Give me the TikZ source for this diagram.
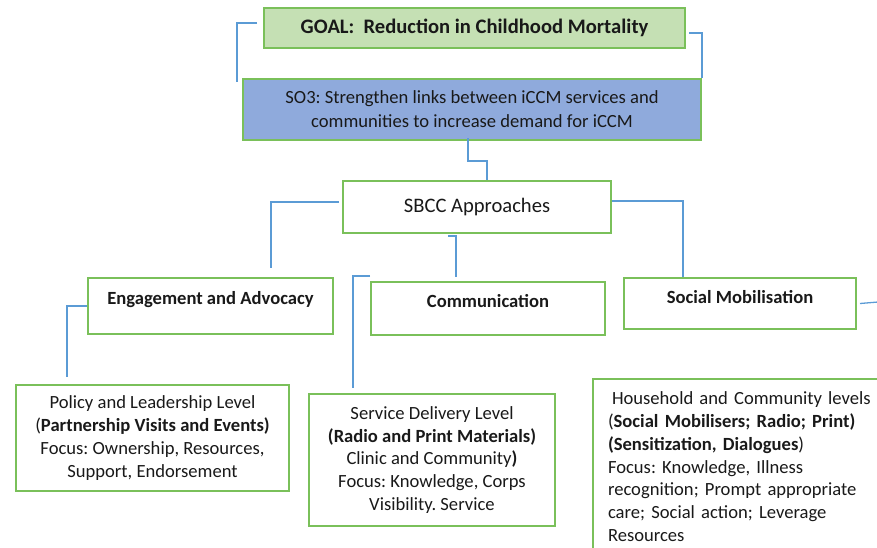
\documentclass[tikz,border=0pt]{standalone}
\usepackage{fontspec}
\setmainfont{Carlito}
\frenchspacing
\definecolor{boxgreen}{RGB}{122,192,90}
\definecolor{goalfill}{RGB}{197,224,180}
\definecolor{sofill}{RGB}{143,170,220}
\definecolor{linkblue}{RGB}{91,155,213}
\definecolor{ink}{RGB}{25,25,25}
\begin{document}
\begin{tikzpicture}[x=1pt,y=-1pt,
  box/.style={draw=boxgreen,line width=2pt,inner sep=0pt,text=ink,align=center},
  link/.style={draw=linkblue,line width=1.3pt},
  body/.style={font=\fontsize{18.6}{22.7}\selectfont},
  head/.style={font=\bfseries\fontsize{18.6}{22}\selectfont}]
\clip (0,0) rectangle (877,547);

% goal and strategic objective
\node[box,fill=goalfill,minimum width=421pt,minimum height=40pt,
      font=\bfseries\fontsize{20.6}{24}\selectfont] (goal) at (474.5,28)
      {GOAL:\ \ Reduction in Childhood Mortality};
\node[box,fill=sofill,minimum width=458pt,minimum height=61pt,
      font=\fontsize{18.6}{24}\selectfont] (so3) at (472,109.5)
      {SO3: Strengthen links between iCCM services and\\communities to increase demand for iCCM};

% approaches
\node[box,minimum width=268pt,minimum height=52pt,
      font=\fontsize{20.6}{24}\selectfont] (sbcc) at (477,207) {SBCC Approaches};

\node[box,head,anchor=north,minimum width=245pt,text height=26pt,text depth=30pt]
      (eng) at (210.5,277) {Engagement and Advocacy};
\node[box,head,anchor=north,minimum width=234pt,text height=25pt,text depth=28pt]
      (comm) at (488,281) {Communication};
\node[box,head,anchor=north,minimum width=232pt,text height=25pt,text depth=26pt]
      (soc) at (740,277) {Social Mobilisation};

% levels
\node[box,body,minimum width=273pt,minimum height=106pt] (pol) at (152.5,438)
      {Policy and Leadership Level\\(\textbf{Partnership Visits and Events)}\\
       Focus: Ownership, Resources,\\Support, Endorsement};
\node[box,body,minimum width=246pt,minimum height=132pt] (svc) at (432,460)
      {Service Delivery Level\\\textbf{(Radio and Print Materials)}\\
       Clinic and Community\textbf{)}\\Focus: Knowledge, Corps\\Visibility. Service};
\node[box,body,anchor=north west,align=left,text width=280pt,
      inner xsep=15pt,inner ysep=13pt] (hh) at (592,378)
      {\hspace{4pt}Household and Community levels\\
       (\textbf{Social Mobilisers; Radio; Print)}\\
       \textbf{(Sensitization, Dialogues}) \\
       Focus: Knowledge, Illness\\
       recognition; Prompt appropriate\\
       care; Social action; Leverage\\
       Resources};

% connectors
\coordinate (offright) at (890,301);
\draw[link] ([shift={(-6,-5)}]goal.west) -| ([shift={(-5,4)}]so3.north west);
\draw[link] ([shift={(3,5)}]goal.east) -| (so3.north east);
\draw[link] ([shift={(-4,-3)}]so3.south) -- ++(0,23) -| ([xshift=10]sbcc.north);
\draw[link] ([shift={(-3,-5)}]sbcc.west) -| ([shift={(60.5,-9)}]eng.north);
\draw[link] ([shift={(-29,2)}]sbcc.south) -| ([shift={(-32,-4)}]comm.north);
\draw[link] ([yshift=6]sbcc.east) -| ([xshift=-57]soc.north);
\draw[link] (eng.west) -| ([shift={(-85.5,-7)}]pol.north);
\draw[link] ([yshift=5]comm.north west) -| ([shift={(-79,-5)}]svc.north);
\draw[link] ([xshift=3]soc.east) -- (offright);
\end{tikzpicture}
\end{document}
